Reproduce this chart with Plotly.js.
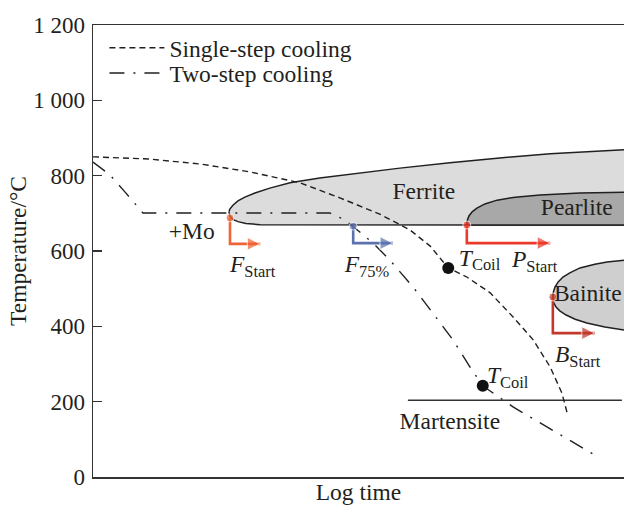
<!DOCTYPE html>
<html>
<head>
<meta charset="utf-8">
<script src="https://cdn.plot.ly/plotly-3.0.1.min.js"></script>
<style>
  html, body { margin: 0; padding: 0; background: #ffffff; overflow: hidden; }
  #chart { width: 624px; height: 509px; }
</style>
</head>
<body>
<div id="chart"></div>
<script>
// Schematic CCT diagram: temperature (°C) against log time (arbitrary units 0-10);
// the regions run on past the right edge of the axes.

// Cooling paths
const singleStepX = [0.00, 1.07, 2.02, 2.96, 3.90, 4.65, 5.40, 5.97, 6.35, 6.69, 7.04, 7.48, 7.91, 8.29, 8.61, 8.83, 8.93];
const singleStepT = [850, 844, 831, 810, 781, 741, 698, 656, 613, 555, 531, 489, 425, 364, 292, 223, 170];

const twoStepX = [0.00, 0.32, 0.60, 0.94, 4.46, 4.75, 5.03, 5.31, 5.59, 6.03, 6.40, 6.78, 7.10, 7.34, 7.91, 8.55, 9.17, 9.55];
const twoStepT = [836, 802, 757, 701, 701, 682, 650, 616, 576, 504, 435, 364, 292, 242, 186, 133, 80, 50];

// Transformation regions (closed outlines)
const ferriteX = [2.56, 2.58, 2.64, 2.73, 2.86, 3.05, 3.33, 3.71, 4.27, 5.03, 5.78, 6.72, 7.66, 8.61, 9.55, 10.30,
                  10.30, 3.90, 3.15, 2.88, 2.73, 2.63, 2.58, 2.56];
const ferriteT = [704, 712, 722, 733, 743, 754, 767, 781, 794, 807, 820, 834, 847, 858, 865, 871,
                  669, 669, 670, 673, 678, 684, 692, 704];

const pearliteX = [7.04, 7.05, 7.08, 7.14, 7.23, 7.38, 7.61, 7.95, 8.42, 9.17, 10.30, 10.30, 7.04];
const pearliteT = [669, 682, 693, 704, 714, 725, 735, 743, 749, 754, 757, 669, 669];

const bainiteX = [8.66, 8.67, 8.70, 8.76, 8.85, 8.98, 9.17, 9.45, 9.68, 10.00, 10.30,
                  10.30, 10.00, 9.64, 9.30, 9.08, 8.91, 8.79, 8.72, 8.67, 8.66];
const bainiteT = [478, 491, 504, 518, 531, 542, 555, 565, 571, 576, 579,
                  388, 390, 398, 409, 419, 430, 441, 451, 464, 478];

// Martensite start line
const martensiteX = [5.93, 9.96];
const martensiteT = [204, 204];

// Coiling points on the two paths
const coilX = [6.69, 7.34];
const coilT = [555, 242];

// Transformation start markers: start point, drop, arrow end
const markerStartX = [2.58, 4.90, 7.04, 8.66];
const markerStartT = [688, 666, 669, 478];
const markerDropT  = [619, 621, 621, 382];
const markerEndX   = [3.15, 5.65, 8.61, 9.45];

// Centred labels
const centreText = ['Ferrite', 'Pearlite', 'Martensite', '+Mo'];
const centreX    = [6.23, 9.11, 6.72, 1.86];
const centreT    = [754, 712, 143, 648];

// Left-aligned labels
const leftText = ['Bainite', '<i>F</i><sub>Start</sub>', '<i>F</i><sub>75%</sub>', '<i>T</i><sub>Coil</sub>',
                  '<i>P</i><sub>Start</sub>', '<i>B</i><sub>Start</sub>', '<i>T</i><sub>Coil</sub>'];
const leftX    = [8.68, 2.58, 4.74, 6.89, 7.89, 8.70, 7.42];
const leftT    = [483, 560, 560, 577, 572, 320, 264];

// Temperature axis ticks
const tempTicks = [0, 200, 400, 600, 800, 1000, 1200];
const tempTickText = ['0', '200', '400', '600', '800', '1 000', '1 200'];

const SERIF = '"Liberation Serif", "Times New Roman", serif';
const INK = '#231f20';
const TEXT_SIZE = 23.5;
const markerColors = ['#ef6434', '#5b72ae', '#ec3a2a', '#c0392b'];

const traces = [];

traces.push({
  x: ferriteX, y: ferriteT, type: 'scatter', mode: 'lines',
  fill: 'toself', fillcolor: '#dcdcdc',
  line: { color: INK, width: 1.5 },
  hoverinfo: 'skip', showlegend: false
});
traces.push({
  x: pearliteX, y: pearliteT, type: 'scatter', mode: 'lines',
  fill: 'toself', fillcolor: '#a8a8a8',
  line: { color: INK, width: 1.5 },
  hoverinfo: 'skip', showlegend: false
});
traces.push({
  x: bainiteX, y: bainiteT, type: 'scatter', mode: 'lines',
  fill: 'toself', fillcolor: '#cfcfcf',
  line: { color: INK, width: 1.5 },
  hoverinfo: 'skip', showlegend: false
});
traces.push({
  x: martensiteX, y: martensiteT, type: 'scatter', mode: 'lines',
  line: { color: '#333333', width: 1.5 },
  hoverinfo: 'skip', showlegend: false
});
traces.push({
  x: singleStepX, y: singleStepT, type: 'scatter', mode: 'lines',
  name: 'Single-step cooling', legend: 'legend',
  line: { color: INK, width: 1.4, dash: '6px,4px' }
});
traces.push({
  x: twoStepX, y: twoStepT, type: 'scatter', mode: 'lines',
  name: 'Two-step cooling', legend: 'legend2',
  line: { color: INK, width: 1.4, dash: '15px,9px,2px,9px' }
});

// L-shaped start markers: dot, drop, then an arrow toward longer times
for (let i = 0; i < markerStartX.length; i++) {
  traces.push({
    x: [markerStartX[i], markerStartX[i], markerEndX[i]],
    y: [markerStartT[i], markerDropT[i], markerDropT[i]],
    type: 'scatter', mode: 'lines+markers',
    line: { color: markerColors[i], width: 2.6 },
    marker: { color: markerColors[i], symbol: ['circle', 'circle', 'arrow-right'], size: [8, 0, 13] },
    hoverinfo: 'skip', showlegend: false
  });
}

traces.push({
  x: coilX, y: coilT, type: 'scatter', mode: 'markers',
  marker: { color: '#111111', size: 12 },
  hoverinfo: 'skip', showlegend: false
});

traces.push({
  x: centreX, y: centreT, text: centreText, type: 'scatter', mode: 'text',
  textposition: 'middle center',
  textfont: { family: SERIF, size: TEXT_SIZE, color: INK },
  hoverinfo: 'skip', showlegend: false
});
traces.push({
  x: leftX, y: leftT, text: leftText, type: 'scatter', mode: 'text',
  textposition: 'middle right',
  textfont: { family: SERIF, size: TEXT_SIZE, color: INK },
  hoverinfo: 'skip', showlegend: false
});

const legendStyle = {
  xanchor: 'left', yanchor: 'top',
  bgcolor: 'rgba(0,0,0,0)', borderwidth: 0,
  font: { family: SERIF, size: TEXT_SIZE, color: INK },
  itemwidth: 55
};

const layout = {
  width: 624, height: 509,
  margin: { l: 93, r: 0, t: 25, b: 32, autoexpand: false },
  paper_bgcolor: '#ffffff', plot_bgcolor: '#ffffff',
  font: { family: SERIF, size: TEXT_SIZE, color: INK },
  showlegend: true,
  legend: Object.assign({ x: 0.0215, y: 0.9978 }, legendStyle),
  legend2: Object.assign({ x: 0.0215, y: 0.942 }, legendStyle),
  xaxis: {
    range: [0, 10], showgrid: false, zeroline: false,
    showline: true, mirror: true, linecolor: '#333333', linewidth: 1.5,
    ticks: '', showticklabels: false,
    title: { text: 'Log time', font: { family: SERIF, size: TEXT_SIZE, color: INK }, standoff: 6 }
  },
  yaxis: {
    range: [0, 1200], showgrid: false, zeroline: false,
    showline: true, mirror: false, linecolor: '#333333', linewidth: 1.5,
    ticks: 'inside', ticklen: 9, tickwidth: 1.3, tickcolor: '#333333',
    tickvals: tempTicks, ticktext: tempTickText,
    tickfont: { family: SERIF, size: 23, color: INK },
    ticklabelstandoff: 2,
    title: { text: 'Temperature/°C', font: { family: SERIF, size: TEXT_SIZE, color: INK }, standoff: 0 }
  }
};

Plotly.newPlot('chart', traces, layout, { staticPlot: true, displayModeBar: false });
</script>
</body>
</html>
